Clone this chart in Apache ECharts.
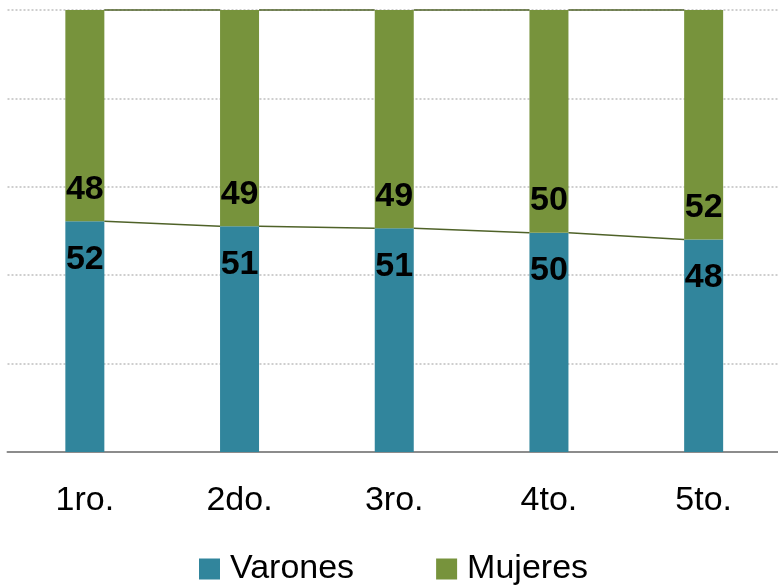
<!DOCTYPE html>
<html>
<head>
<meta charset="utf-8">
<script src="https://cdn.jsdelivr.net/npm/echarts@6/dist/echarts.min.js"></script>
<style>
  html, body { margin: 0; padding: 0; background: #fff; }
  #chart { width: 778px; height: 585px; }
</style>
</head>
<body>
<div id="chart"></div>
<script>
var grados = ["1ro.", "2do.", "3ro.", "4to.", "5to."];
var varones = [52.2, 51.1, 50.6, 49.6, 48.1];
var mujeres = [47.8, 48.9, 49.4, 50.4, 51.9];

var BAR_W = 39;
var FONT = "Liberation Sans";

// tops of each stack level, used for the excel-style series lines
function stackTops(level) {
  var tops = [];
  for (var i = 0; i < grados.length; i++) {
    var v = varones[i];
    if (level > 0) v += mujeres[i];
    tops.push(v);
  }
  return tops;
}

function lineData(tops) {
  var out = [];
  for (var i = 0; i < tops.length - 1; i++) {
    out.push([i, tops[i], i + 1, tops[i + 1]]);
  }
  return out;
}

function renderSeriesLine(params, api) {
  var a = api.coord([api.value(0), api.value(1)]);
  var b = api.coord([api.value(2), api.value(3)]);
  return {
    type: "line",
    shape: { x1: a[0] + BAR_W / 2, y1: a[1], x2: b[0] - BAR_W / 2, y2: b[1] },
    style: { stroke: "#4f6228", lineWidth: 1.5 },
  };
}

var chart = echarts.init(document.getElementById("chart"));

chart.setOption({
  animation: false,
  grid: { left: 7.5, right: -3, top: 10, bottom: 133, outerBoundsMode: "none" },
  legend: {
    top: 552,
    left: 199,
    padding: 0,
    itemWidth: 21,
    itemHeight: 21,
    itemGap: 82,
    icon: "rect",
    textStyle: { fontFamily: FONT, fontSize: 34, color: "#000", padding: [0, 0, 0, 5] },
    data: ["Varones", "Mujeres"],
  },
  xAxis: {
    type: "category",
    data: grados,
    axisTick: { show: false },
    axisLine: { lineStyle: { color: "#8c8c8c", width: 2 } },
    axisLabel: { fontFamily: FONT, fontSize: 34, color: "#000", margin: 32 },
  },
  yAxis: {
    type: "value",
    min: 0,
    max: 100,
    interval: 20,
    axisLabel: { show: false },
    axisLine: { show: false },
    axisTick: { show: false },
    splitLine: { lineStyle: { color: "#bfbfbf", type: [2, 2], width: 1.5 } },
  },
  series: [
    {
      name: "Varones",
      type: "bar",
      stack: "total",
      barWidth: BAR_W,
      data: varones,
      itemStyle: { color: "#31859c" },
      label: {
        show: true,
        position: "insideTop",
        distance: 21,
        fontFamily: FONT,
        fontSize: 34,
        fontWeight: "bold",
        color: "#000",
        formatter: function (p) { return Math.round(p.value); },
      },
    },
    {
      name: "Mujeres",
      type: "bar",
      stack: "total",
      barWidth: BAR_W,
      data: mujeres,
      itemStyle: { color: "#77933c" },
      label: {
        show: true,
        position: "insideBottom",
        distance: 15,
        fontFamily: FONT,
        fontSize: 34,
        fontWeight: "bold",
        color: "#000",
        formatter: function (p) { return Math.round(p.value); },
      },
    },
    {
      type: "custom",
      renderItem: renderSeriesLine,
      data: lineData(stackTops(0)),
      z: 3,
      silent: true,
    },
    {
      type: "custom",
      renderItem: renderSeriesLine,
      data: lineData(stackTops(1)),
      z: 3,
      silent: true,
    },
  ],
});
</script>
</body>
</html>
